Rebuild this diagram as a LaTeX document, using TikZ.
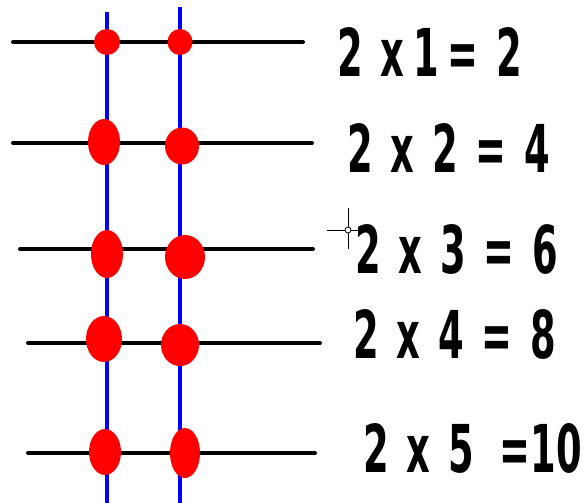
\documentclass[tikz,border=0pt]{standalone}
\usepackage{fontspec}
\newfontfamily\eqfont[FakeStretch=0.62, WordSpace=1.4]{DejaVu Sans Condensed}
\usetikzlibrary{shapes.geometric}
\tikzstyle{rung} = [line width=4pt, black, line cap=round]
\tikzstyle{pole} = [line width=4.5pt, blue]
\tikzstyle{bead} = [ellipse, fill=red, inner sep=0pt]
\tikzstyle{eqn} = [anchor=base west, inner sep=0pt, font=\eqfont\bfseries\fontsize{66}{66}\selectfont]

\begin{document}
\begin{tikzpicture}[x=1pt, y=-1pt]
    \useasboundingbox (0,0) rectangle (584,503);

    % the two poles
    \coordinate (p1top) at (107,12);
    \coordinate (p1bot) at (107,503);
    \coordinate (p2top) at (180,7);
    \coordinate (p2bot) at (180,503);
    \draw [pole] (p1top) -- (p1bot);
    \draw [pole] (p2top) -- (p2bot);

    % the five rungs
    \coordinate (r1a) at (13,42);   \coordinate (r1b) at (303,42);
    \coordinate (r2a) at (13,143);  \coordinate (r2b) at (312,143);
    \coordinate (r3a) at (20,249);  \coordinate (r3b) at (313,249);
    \coordinate (r4a) at (28,343);  \coordinate (r4b) at (320,343);
    \coordinate (r5a) at (28,453);  \coordinate (r5b) at (315,453);
    \draw [rung] (r1a) -- (r1b);
    \draw [rung] (r2a) -- (r2b);
    \draw [rung] (r3a) -- (r3b);
    \draw [rung] (r4a) -- (r4b);
    \draw [rung] (r5a) -- (r5b);

    % beads
    \node (b11) [bead, minimum width=26pt, minimum height=26pt] at (107,42) {};
    \node (b12) [bead, minimum width=25pt, minimum height=26pt] at (180,42) {};
    \node (b21) [bead, minimum width=32pt, minimum height=46pt] at (104,142) {};
    \node (b22) [bead, minimum width=34pt, minimum height=37pt] at (182,146) {};
    \node (b31) [bead, minimum width=32pt, minimum height=48pt] at (107,254) {};
    \node (b32) [bead, minimum width=40pt, minimum height=44pt] at (185,257) {};
    \node (b41) [bead, minimum width=36pt, minimum height=46pt] at (104,339) {};
    \node (b42) [bead, minimum width=38pt, minimum height=42pt] at (180,345) {};
    \node (b51) [bead, minimum width=32pt, minimum height=46pt] at (105,452) {};
    \node (b52) [bead, minimum width=30pt, minimum height=50pt] at (185,453) {};

    % the sums
    \node (s1) [eqn] at (337,77) {2 x\hspace{-9pt} 1\hspace{-9pt} = 2};
    \node (s2) [eqn] at (347,172) {2 x 2 = 4};
    \node (s3) [eqn] at (355,273) {2 x 3 = 6};
    \node (s4) [eqn] at (353,358) {2 x 4 = 8};
    \node (s5) [eqn] at (363,472) {2 x 5 \hspace{8pt}=10};

    % cursor
    \coordinate (cur) at (348,230);
    \draw [line width=1pt] ([yshift=-19pt]cur) -- ([yshift=22pt]cur);
    \draw [line width=1pt] ([xshift=-21pt]cur) -- ([xshift=21pt]cur);
    \draw [line width=0.8pt, fill=white] (cur) circle (3pt);
\end{tikzpicture}
\end{document}
